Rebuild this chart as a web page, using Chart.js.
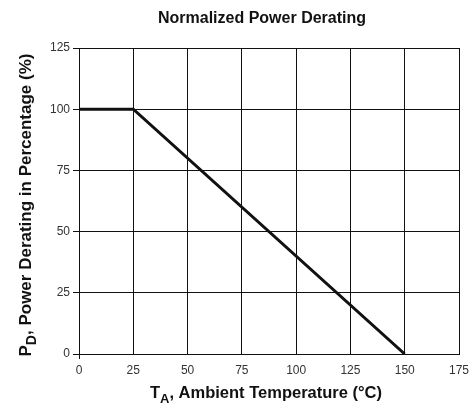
<!DOCTYPE html>
<html>
<head>
<meta charset="utf-8">
<script src="https://cdn.jsdelivr.net/npm/chart.js@4"></script>
<style>
  html, body { margin: 0; padding: 0; background: #fff; }
  #wrap { width: 472px; height: 406px; }
</style>
</head>
<body>
<div id="wrap"><canvas id="derating" width="472" height="406"></canvas></div>
<script>
const temps = [0, 25, 150];
const derating = [100, 100, 0];
const xTicks = [0, 25, 50, 75, 100, 125, 150, 175];
const yTicks = [0, 25, 50, 75, 100, 125];

const font = 'Liberation Sans, Arial, sans-serif';

// draws chart title and axis titles (with subscripts)
const titles = {
  id: 'titles',
  afterDraw(chart) {
    const c = chart.ctx;
    const area = chart.chartArea;
    c.save();
    c.fillStyle = '#111';
    c.textBaseline = 'alphabetic';

    c.font = 'bold 16px ' + font;
    c.textAlign = 'center';
    c.fillText('Normalized Power Derating', 262, 23);

    // small stub of the y axis below the x axis
    c.strokeStyle = '#111';
    c.lineWidth = 1;
    c.beginPath();
    c.moveTo(Math.round(area.left) + 0.5, area.bottom);
    c.lineTo(Math.round(area.left) + 0.5, area.bottom + 5);
    c.stroke();

    // x axis title: T_A, Ambient Temperature (°C)
    drawSub(c, 'T', 'A', ', Ambient Temperature (\u00b0C)', 266, 398, 16.5);

    // y axis title, rotated
    c.translate(31, 205);
    c.rotate(-Math.PI / 2);
    drawSub(c, 'P', 'D', ', Power Derating in Percentage (%)', 0, 0, 17);
    c.restore();
  }
};

function drawSub(c, main, sub, rest, cx, y, size) {
  const big = 'bold ' + size + 'px ' + font;
  const small = 'bold ' + Math.round(size * 0.8) + 'px ' + font;
  c.font = big;
  const w1 = c.measureText(main).width;
  const w3 = c.measureText(rest).width;
  c.font = small;
  const w2 = c.measureText(sub).width;
  let x = cx - (w1 + w2 + w3) / 2;
  c.textAlign = 'left';
  c.font = big;
  c.fillText(main, x, y);
  x += w1;
  c.font = small;
  c.fillText(sub, x, y + 5);
  x += w2;
  c.font = big;
  c.fillText(rest, x, y);
}

new Chart(document.getElementById('derating'), {
  type: 'scatter',
  data: {
    datasets: [{
      data: temps.map((t, i) => ({ x: t, y: derating[i] })),
      showLine: true,
      borderColor: '#111',
      borderWidth: 3,
      pointRadius: 0,
      tension: 0
    }]
  },
  options: {
    responsive: false,
    animation: false,
    layout: { padding: { top: 48, right: 13, left: 0, bottom: 0 } },
    plugins: { legend: { display: false }, tooltip: { enabled: false } },
    scales: {
      x: {
        type: 'linear',
        min: 0,
        max: 175,
        afterBuildTicks: s => { s.ticks = xTicks.map(v => ({ value: v })); },
        afterFit: s => { s.height = 52; s.paddingLeft = 0; s.paddingRight = 0; },
        grid: { color: '#111', lineWidth: 1, drawTicks: false },
        border: { color: '#111', width: 1 },
        ticks: { color: '#333', font: { family: font, size: 12 }, padding: 9 }
      },
      y: {
        min: 0,
        max: 125,
        afterBuildTicks: s => { s.ticks = yTicks.map(v => ({ value: v })); },
        afterFit: s => { s.width = 79; s.paddingTop = 0; s.paddingBottom = 0; },
        grid: { color: '#111', lineWidth: 1, tickLength: 6 },
        border: { color: '#111', width: 1 },
        ticks: { color: '#333', font: { family: font, size: 12 }, padding: 3 }
      }
    }
  },
  plugins: [titles]
});
</script>
</body>
</html>
